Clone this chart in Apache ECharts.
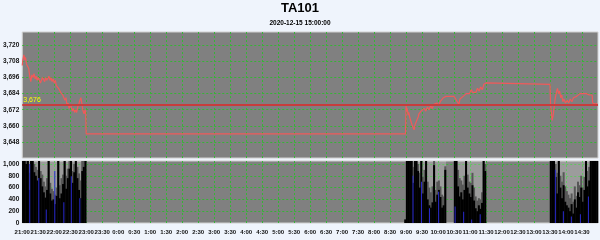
<!DOCTYPE html>
<html>
<head>
<meta charset="utf-8">
<script src="https://cdn.jsdelivr.net/npm/echarts@6/dist/echarts.min.js"></script>
<style>
html,body{margin:0;padding:0;background:#eff4fc;}
#c{width:600px;height:240px;}
</style>
</head>
<body>
<div id="c"></div>
<script>
// ---------- DATA ----------
const titleText = 'TA101';
const subTitleText = '2020-12-15 15:00:00';
const refPrice = 3676;

const xTickLabels = ['21:00','21:30','22:00','22:30','23:00','23:30','0:00','0:30','1:00','1:30','2:00','2:30','3:00','3:30','4:00','4:30','5:00','5:30','6:00','6:30','7:00','7:30','8:00','8:30','9:00','9:30','10:00','10:30','11:00','11:30','12:00','12:30','13:00','13:30','14:00','14:30','15:00'];

const priceTimes = [
 '21:00','21:01','21:03','21:05','21:06','21:08','21:10','21:12','21:14','21:16','21:18','21:20','21:22','21:24','21:26','21:28','21:30','21:32','21:34','21:36','21:38','21:40','21:42','21:44','21:46','21:48','21:50','21:52','21:54','21:56','21:58',
 '22:00','22:02','22:04','22:06','22:08','22:10','22:12','22:14','22:16','22:18','22:20','22:22','22:24','22:26','22:28','22:30','22:32','22:34','22:36','22:38','22:40','22:42','22:44','22:46','22:48','22:50','22:52','22:54','22:56','22:58','22:59','23:00',
 '08:59',
 '09:00','09:01','09:02','09:04','09:05','09:07','09:09','09:11','09:13','09:15','09:17','09:19','09:21','09:23','09:24','09:26','09:28','09:31','09:34','09:37','09:40','09:43','09:46','09:49','09:52','09:55','09:58','10:01','10:04','10:07','10:10','10:12','10:15',
 '10:30','10:33','10:36','10:39','10:41','10:44','10:47','10:50','10:53','10:56','10:59','11:02','11:05','11:08','11:11','11:14','11:17','11:20','11:23','11:26','11:28','11:30',
 '13:30','13:31','13:34','13:36','13:38','13:40','13:42','13:44','13:46','13:48','13:50','13:52','13:54','13:56','13:59','14:02','14:05','14:08','14:11','14:14','14:17','14:20','14:23','14:26','14:29','14:32','14:35','14:38','14:41','14:44','14:47','14:49','14:50','14:53','14:56','14:58'
];
const priceValues = [
 3705,3709,3713,3709,3711,3706,3707,3703,3697,3693,3698,3696,3699,3695,3697,3694,3696,3695,3692,3694,3696,3695,3693,3696,3694,3695,3697,3694,3696,3693,3695,
 3692,3694,3690,3691,3688,3687,3685,3686,3683,3684,3679,3681,3675,3677,3673,3676,3674,3671,3673,3670,3672,3670,3674,3676,3679,3681,3676,3671,3669,3672,3670,3654,
 3654,
 3675,3671,3673,3668,3670,3666,3667,3661,3659,3657,3661,3663,3665,3667,3669,3668,3671,3670,3673,3671,3674,3672,3675,3673,3676,3675,3677,3675,3678,3677,3681,3680,3682,
 3682,3680,3681,3676,3680,3679,3682,3681,3684,3685,3684,3687,3685,3686,3685,3688,3686,3689,3687,3691,3692,3692,
 3691,3676,3664,3668,3675,3681,3685,3688,3684,3686,3681,3683,3678,3680,3677,3679,3677,3680,3678,3681,3680,3682,3681,3684,3685,3684,3685,3684,3685,3683,3684,3683,3677,3678,3676,3677
];

// trading sessions (light background in volume panel)
const sessionRanges = [['21:00','23:00'],['09:00','10:15'],['10:30','11:30'],['13:30','15:00']];
const volStep = 3; // minutes per volume bar

const nightStart = '21:00';
const nightBlack = [1050,1050,1000,1050,560,1050,1050,860,800,720,1050,760,620,520,430,560,1050,500,380,400,320,460,1050,420,500,660,1050,580,760,920,1050,680,860,1050,760,560,420,880,950,1050];
const nightGray  = [1050,1050,1050,1050,850,1050,1050,1000,950,900,1050,880,820,700,620,760,1050,680,580,540,480,600,1050,640,760,820,1050,800,920,1050,1050,880,1000,1050,950,840,720,1050,1050,1050];

const am1Start = '08:57';
const am1Black = [60,1050,1050,1050,1050,680,1050,1050,880,600,1050,500,700,1050,400,300,260,350,980,360,480,560,440,260,300,900];
const am1Gray  = [60,1050,1050,1050,1050,950,1050,1050,1000,850,1050,780,900,1050,700,600,520,620,1050,560,700,720,620,480,450,960];

const am2Start = '10:30';
const am2Black = [1050,1050,620,450,520,400,560,1050,600,500,440,640,380,250,200,300,240,340,1050,880];
const am2Gray  = [1050,1050,900,760,720,650,800,1050,820,700,680,850,600,450,380,420,400,520,1050,1000];

const pmStart = '13:30';
const pmBlack = [1050,1050,1050,780,500,1050,600,420,640,360,300,260,200,320,160,400,260,520,440,600,360,560,1050,620,720,1050,1050,1050,1050,1050];
const pmGray  = [1050,1050,1050,1000,850,1050,800,700,860,620,540,480,420,500,360,620,460,700,640,800,600,780,1050,880,950,1050,1050,1050,1050,1050];

const blueTimes  = ['21:14','21:31','21:45','22:01','22:18','22:32','22:48','09:13','09:29','09:44','10:01','10:32','10:48','11:03','11:19','13:40','13:55','14:10','14:27','14:42'];
const blueValues = [1000,760,230,880,350,790,420,800,700,250,530,280,190,60,150,900,200,110,150,450];

// ---------- HELPERS ----------
function toMin(t){
  const p = t.split(':');
  const m = parseInt(p[0],10)*60 + parseInt(p[1],10);
  return (m - 21*60 + 1440) % 1440;
}
function binSeries(start, values){
  const s = toMin(start);
  return values.map((v,i)=>[s + i*volStep + volStep/2, v]);
}
const grayData = [].concat(binSeries(nightStart,nightGray), binSeries(am1Start,am1Gray), binSeries(am2Start,am2Gray), binSeries(pmStart,pmGray));
const blackData = [].concat(binSeries(nightStart,nightBlack), binSeries(am1Start,am1Black), binSeries(am2Start,am2Black), binSeries(pmStart,pmBlack));
const blueData = blueTimes.map((t,i)=>[toMin(t), blueValues[i]]);
const priceData = priceTimes.map((t,i)=>[toMin(t), priceValues[i]]);

const FONT = "'Liberation Sans',Arial,sans-serif";
const GRID_GREEN = '#36b436';
const fmtNum = v => Math.round(v).toLocaleString('en-US');

const splitLine = {show:true, showMinLine:false, showMaxLine:false, lineStyle:{color:GRID_GREEN, width:1, type:[2,2]}};
const xBase = {type:'value', min:0, max:1080, interval:30};

const chart = echarts.init(document.getElementById('c'), null, {renderer:'canvas'});
chart.setOption({
  animation:false,
  backgroundColor:'#eff4fc',
  title:{
    text:titleText, subtext:subTitleText, left:'center', top:2, padding:0, itemGap:5,
    textStyle:{fontFamily:FONT, fontSize:13, fontWeight:'bold', color:'#000'},
    subtextStyle:{fontFamily:FONT, fontSize:6.5, fontWeight:'bold', color:'#000'}
  },
  grid:[
    {left:22, top:32, width:576, height:126, show:true, backgroundColor:'#808080', borderColor:'#d0d0d0', borderWidth:1},
    {left:22, top:161, width:576, height:62, show:true, backgroundColor:'#808080', borderColor:'#d0d0d0', borderWidth:1}
  ],
  xAxis:[
    Object.assign({}, xBase, {gridIndex:0, axisLabel:{show:false}, axisLine:{show:false}, axisTick:{show:false}, splitLine:splitLine}),
    Object.assign({}, xBase, {gridIndex:1, axisLine:{show:false}, axisTick:{show:false}, splitLine:splitLine,
      axisLabel:{show:true, fontFamily:FONT, fontSize:6, fontWeight:'bold', color:'#111', margin:6, showMaxLabel:false, showMinLabel:true, hideOverlap:false,
        formatter:v=>xTickLabels[Math.round(v/30)]}}),
    Object.assign({}, xBase, {gridIndex:1, show:false})
  ],
  yAxis:[
    {type:'value', gridIndex:0, min:3636, max:3730, interval:12, axisLine:{show:false}, axisTick:{show:false}, splitLine:splitLine,
      axisLabel:{fontFamily:FONT, fontSize:6.5, fontWeight:'bold', color:'#111', margin:3, showMinLabel:false, showMaxLabel:false, formatter:fmtNum}},
    {type:'value', gridIndex:1, min:0, max:1050, interval:200, axisLine:{show:false}, axisTick:{show:false}, splitLine:splitLine,
      axisLabel:{fontFamily:FONT, fontSize:6.5, fontWeight:'bold', color:'#111', margin:3, showMaxLabel:false, formatter:fmtNum}}
  ],
  series:[
    {type:'line', xAxisIndex:0, yAxisIndex:0, data:priceData, showSymbol:false, symbol:'none',
      lineStyle:{color:'#f05a5a', width:1.2}, z:3,
      markLine:{silent:true, symbol:['none','none'], animation:false,
        lineStyle:{color:'#c83c3c', width:2, type:'solid'},
        label:{show:true, position:'insideStartTop', distance:[1,1], formatter:fmtNum(refPrice), color:'#ffff00', fontFamily:FONT, fontSize:7},
        data:[{yAxis:refPrice}]}},
    {type:'bar', xAxisIndex:1, yAxisIndex:1, data:grayData, barWidth:2, barGap:'-100%',
      itemStyle:{color:'#575757'},
      markArea:{silent:true, itemStyle:{color:'rgba(255,255,255,0.22)'},
        data:sessionRanges.map(r=>[{xAxis:toMin(r[0])},{xAxis:toMin(r[1])===0?1080:toMin(r[1])}])}},
    {type:'bar', xAxisIndex:1, yAxisIndex:1, data:blackData, barWidth:2, barGap:'-100%',
      itemStyle:{color:'#000000'}},
    {type:'bar', xAxisIndex:2, yAxisIndex:1, data:blueData, barWidth:1,
      itemStyle:{color:'#2a2ad0'}, z:4}
  ]
});
</script>
</body>
</html>
